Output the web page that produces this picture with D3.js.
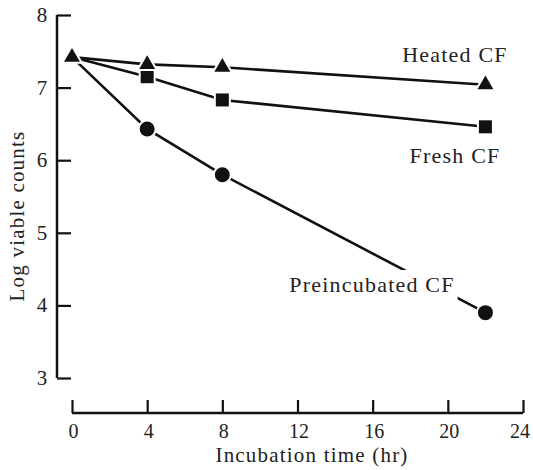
<!DOCTYPE html>
<html><head><meta charset="utf-8">
<script src="https://cdn.jsdelivr.net/npm/d3@7"></script>
<style>body{margin:0;background:#fff}svg{display:block}</style>
</head><body><svg id="c" width="533" height="470"></svg>
<script>
const times = [0, 4, 8, 22];
const heated = [7.42, 7.32, 7.28, 7.04];
const fresh = [7.42, 7.15, 6.83, 6.46];
const preincubated = [7.42, 6.43, 5.80, 3.90];
const seriesNames = ["Heated CF", "Fresh CF", "Preincubated CF"];
const xTicks = [0, 4, 8, 12, 16, 20, 24];
const yTicks = [3, 4, 5, 6, 7, 8];

const FONT = "'Liberation Serif', 'Times New Roman', 'DejaVu Serif', serif";
const svg = d3.select("#c").attr("font-family", FONT);
const x = d3.scaleLinear().domain([0, 24]).range([72, 523]);
const y = d3.scaleLinear().domain([3, 8]).range([378, 15]);
const ink = "#111";
const txt = "#222";

// y axis
const ya = svg.append("g").attr("transform", "translate(57,0)")
  .call(d3.axisRight(y).tickValues(yTicks).tickSize(14).tickFormat(""));
ya.select(".domain").attr("stroke", ink).attr("stroke-width", 2.5).attr("d", `M0,${y(8)}V${y(3)}`);
ya.selectAll(".tick line").attr("stroke", ink).attr("stroke-width", 2.2);
svg.append("g").selectAll("text").data(yTicks).join("text")
  .attr("font-family", FONT).attr("fill", txt)
  .attr("x", 42).attr("y", d => y(d) + 7).attr("text-anchor", "middle")
  .attr("font-size", 21).text(d => d);

// x axis
const xa = svg.append("g").attr("transform", "translate(0,413)")
  .call(d3.axisTop(x).tickValues(xTicks).tickSize(13).tickFormat(""));
xa.select(".domain").attr("stroke", ink).attr("stroke-width", 2.5).attr("d", `M${x(0)},0H${x(24)}`);
xa.selectAll(".tick line").attr("stroke", ink).attr("stroke-width", 2.2);
svg.append("g").selectAll("text").data(xTicks).join("text")
  .attr("font-family", FONT).attr("fill", txt)
  .attr("x", d => Math.min(x(d) + 1.5, 520)).attr("y", 438).attr("text-anchor", "middle")
  .attr("font-size", 20).text(d => d);

svg.append("text").attr("font-family", FONT).attr("fill", txt)
  .attr("x", 312).attr("y", 462).attr("text-anchor", "middle")
  .attr("font-size", 21).attr("letter-spacing", 1.2).text("Incubation time (hr)");
svg.append("text").attr("font-family", FONT).attr("fill", txt)
  .attr("transform", "translate(24,216) rotate(-90)").attr("text-anchor", "middle")
  .attr("font-size", 21).attr("letter-spacing", 1.2).text("Log viable counts");

const line = d3.line().x(d => x(d[0])).y(d => y(d[1]));
const data = [heated, fresh, preincubated].map(v => times.map((t, i) => [t, v[i]]));
svg.append("g").selectAll("path").data(data).join("path")
  .attr("d", line).attr("fill", "none").attr("stroke", ink).attr("stroke-width", 2.6);

// labels (with white backing)
const labels = [
  {t: seriesNames[0], x: 455, y: 62},
  {t: seriesNames[1], x: 455, y: 163},
  {t: seriesNames[2], x: 372, y: 292}
];
const lg = svg.append("g");
labels.forEach(l => {
  const t = lg.append("text").attr("font-family", FONT).attr("fill", txt)
    .attr("x", l.x).attr("y", l.y).attr("text-anchor", "middle")
    .attr("font-size", 22).attr("letter-spacing", 1.2).text(l.t);
  const b = t.node().getBBox();
  lg.insert("rect", "text").attr("x", b.x - 3).attr("y", b.y - 2).attr("width", b.width + 6)
    .attr("height", b.height + 6).attr("fill", "#fff");
});

// markers
const mg = svg.append("g");
mg.selectAll("circle").data(data[2].slice(1)).join("circle")
  .attr("cx", d => x(d[0])).attr("cy", d => y(d[1])).attr("r", 7.5)
  .attr("fill", ink).attr("stroke", "#fff").attr("stroke-width", 4).attr("paint-order", "stroke");
mg.selectAll("rect").data(data[1].slice(1)).join("rect")
  .attr("x", d => x(d[0]) - 6.5).attr("y", d => y(d[1]) - 6.5).attr("width", 13).attr("height", 13)
  .attr("fill", ink).attr("stroke", "#fff").attr("stroke-width", 4).attr("paint-order", "stroke");
const tri = d3.symbol().type(d3.symbolTriangle).size(110);
mg.selectAll("path").data(data[0]).join("path")
  .attr("transform", d => `translate(${x(d[0])},${y(d[1])})`).attr("d", tri)
  .attr("fill", ink).attr("stroke", "#fff").attr("stroke-width", 4).attr("paint-order", "stroke");
</script></body></html>
